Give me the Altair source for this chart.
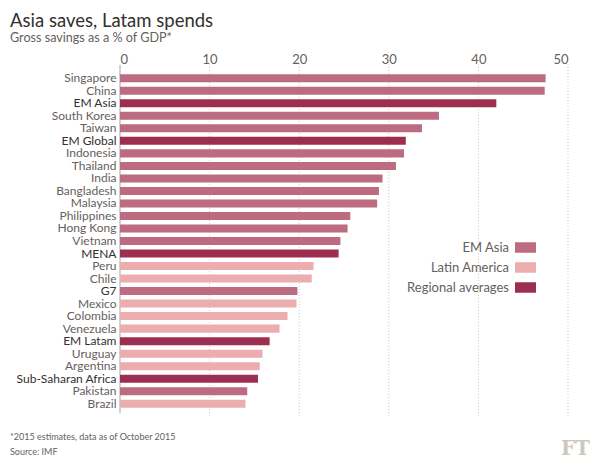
import json
import altair as alt
import pandas as pd

countries = ["Singapore", "China", "EM Asia", "South Korea", "Taiwan", "EM Global",
             "Indonesia", "Thailand", "India", "Bangladesh", "Malaysia", "Philippines",
             "Hong Kong", "Vietnam", "MENA", "Peru", "Chile", "G7", "Mexico", "Colombia",
             "Venezuela", "EM Latam", "Uruguay", "Argentina", "Sub-Saharan Africa",
             "Pakistan", "Brazil"]
savings = [47.5, 47.4, 42.0, 35.6, 33.7, 31.9, 31.7, 30.8, 29.3, 28.9, 28.7, 25.7,
           25.4, 24.6, 24.4, 21.6, 21.4, 19.8, 19.7, 18.7, 17.8, 16.7, 15.9, 15.6,
           15.4, 14.2, 14.0]
groups = ["EM Asia", "EM Asia", "Regional averages", "EM Asia", "EM Asia", "Regional averages",
          "EM Asia", "EM Asia", "EM Asia", "EM Asia", "EM Asia", "EM Asia",
          "EM Asia", "EM Asia", "Regional averages", "Latin America", "Latin America", "EM Asia",
          "Latin America", "Latin America", "Latin America", "Regional averages", "Latin America",
          "Latin America", "Regional averages", "EM Asia", "Latin America"]
dark_labels = ["EM Asia", "EM Global", "MENA", "G7", "EM Latam", "Sub-Saharan Africa"]
group_names = ["EM Asia", "Latin America", "Regional averages"]
group_colors = ["#bd6b80", "#ecadaf", "#9e2e50"]
x_ticks = [0, 10, 20, 30, 40, 50]
grid_ticks = [10, 20, 30, 40, 50]

title = "Asia saves, Latam spends"
subtitle = "Gross savings as a % of GDP*"
note = "*2015 estimates, data as of October 2015"
source = "Source: IMF"

FONT = "Lato"
GREY = "#66605c"
DARK = "#33302e"

df = pd.DataFrame({"country": countries, "value": savings, "group": groups})

bars = alt.Chart(df).mark_bar(height={"band": 0.8}).encode(
    x=alt.X("value:Q", scale=alt.Scale(domain=[0, 50], nice=False),
            axis=alt.Axis(orient="top", values=x_ticks, title=None, grid=False,
                          domain=False, ticks=False, labelFont=FONT, labelFontSize=13,
                          labelColor=GREY, labelPadding=6)),
    y=alt.Y("country:N", sort=countries,
            scale=alt.Scale(paddingInner=0.2, paddingOuter=0.1),
            axis=alt.Axis(title=None, domain=False, ticks=False, labelFont=FONT,
                          labelFontSize=12, labelPadding=4, labelLimit=200,
                          labelColor=alt.expr(
                              f"indexof({json.dumps(dark_labels)}, datum.value) >= 0 ? '{DARK}' : '{GREY}'"))),
    color=alt.Color("group:N", scale=alt.Scale(domain=group_names, range=group_colors),
                    legend=alt.Legend(orient="none", legendX=395, legendY=165, title=None,
                                      direction="vertical",
                                      symbolType="M-1,-0.5H1V0.5H-1Z", symbolSize=441,
                                      symbolStrokeWidth=0, symbolOpacity=1,
                                      labelAlign="right", labelOffset=alt.expr("-27"),
                                      labelFont=FONT, labelFontSize=13, labelColor=GREY,
                                      rowPadding=2)),
)

grid = alt.Chart(pd.DataFrame({"v": grid_ticks})).mark_rule(
    color="#cfc9c2", strokeDash=[1, 2], strokeWidth=1
).encode(x="v:Q", y=alt.value(-8), y2=alt.value(344))

zero = alt.Chart(pd.DataFrame({"v": [0]})).mark_rule(color="#a8a39d", strokeWidth=1).encode(
    x="v:Q", y=alt.value(-7), y2=alt.value(341))

def label(text, x, y, size, color, align="left", font=FONT, weight="normal"):
    return alt.Chart(pd.DataFrame({"t": [text]})).mark_text(
        align=align, baseline="alphabetic", font=font, fontSize=size, color=color,
        fontWeight=weight
    ).encode(text="t:N", x=alt.value(x), y=alt.value(y))

texts = [
    label(title, -110, -45, 18.5, DARK),
    label(subtitle, -110, -30, 12.6, GREY),
    label(note, -110, 368, 9, GREY),
    label(source, -110, 383, 9, GREY),
    label("FT", 470, 383, 20, "#cfc7bd", align="right", font="DejaVu Serif", weight="bold"),
]

chart = alt.layer(grid, zero, bars, *texts).properties(
    width=448, height=338, autosize="none",
    padding={"left": 112, "top": 64, "right": 23, "bottom": 49},
    background="white",
).configure_view(stroke=None)

chart.save("out.html", embed_options={"renderer": "svg", "actions": False})
